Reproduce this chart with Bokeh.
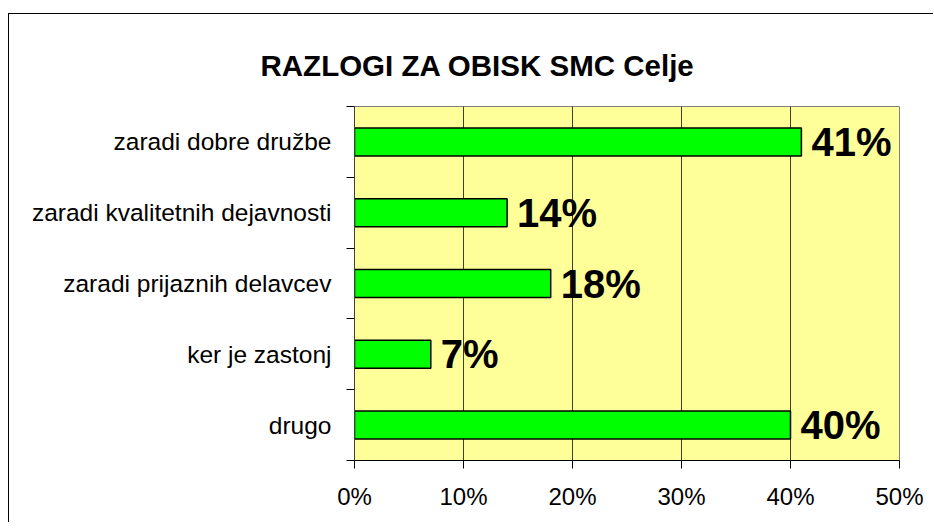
from bokeh.plotting import figure
from bokeh.models import Range1d, FixedTicker, PrintfTickFormatter, Spacer, ColumnDataSource
from bokeh.layouts import column, row
from bokeh.core.properties import value
from bokeh.embed import file_html
from bokeh.resources import INLINE

# Data (bottom to top)
title_text = "RAZLOGI ZA OBISK SMC Celje"
categories = ["drugo", "ker je zastonj", "zaradi prijaznih delavcev",
              "zaradi kvalitetnih dejavnosti", "zaradi dobre družbe"]
percent = [40, 7, 18, 14, 41]
labels = [f"{v}%" for v in percent]
x_ticks = [0, 10, 20, 30, 40, 50]

ypos = [i + 0.5 for i in range(len(categories))]
src = ColumnDataSource(dict(y=ypos, v=percent, lab=labels, cat=categories))

FONT = "Liberation Sans"

p = figure(width=925, height=509, x_range=Range1d(0, 50), y_range=Range1d(0, 5),
           output_backend="svg", toolbar_location=None,
           min_border_left=345, min_border_right=35, min_border_top=92, min_border_bottom=63)
p.styles = {"border-left": "1px solid black", "border-top": "1px solid black"}

p.background_fill_color = "#FFFF99"
p.border_fill_color = "white"
p.outline_line_color = "#808080"
p.outline_line_width = 1

p.title.text = title_text
p.title.text_font = FONT
p.title.text_font_size = "29.5px"
p.title.text_font_style = "bold"
p.title.text_color = "black"
p.title.align = "left"
p.title.vertical_align = "top"
p.title.offset = -94
p.title.standoff = 46

# grid
p.xgrid.ticker = FixedTicker(ticks=x_ticks)
p.xgrid.grid_line_color = "black"
p.xgrid.grid_line_alpha = 0.75
p.xgrid.grid_line_width = 1
p.ygrid.grid_line_color = None

# x axis
p.xaxis.ticker = FixedTicker(ticks=x_ticks)
p.xaxis.formatter = PrintfTickFormatter(format="%d%%")
p.xaxis.major_label_text_font = FONT
p.xaxis.major_label_text_font_size = "24px"
p.xaxis.major_label_text_color = "black"
p.xaxis.major_tick_in = 0
p.xaxis.major_tick_out = 8
p.xaxis.minor_tick_line_color = None
p.xaxis.axis_line_color = "black"
p.xaxis.major_tick_line_color = "black"
p.xaxis.major_label_standoff = 14

# y axis: labels at category centres, ticks at boundaries
p.yaxis.ticker = FixedTicker(ticks=ypos, minor_ticks=list(range(len(categories) + 1)))
p.yaxis.major_label_overrides = {y: c for y, c in zip(ypos, categories)}
p.yaxis.major_label_text_font = FONT
p.yaxis.major_label_text_font_size = "24.5px"
p.yaxis.major_label_text_color = "black"
p.yaxis.major_tick_line_color = None
p.yaxis.major_tick_in = 0
p.yaxis.major_tick_out = 0
p.yaxis.minor_tick_in = 0
p.yaxis.minor_tick_out = 8
p.yaxis.minor_tick_line_color = "black"
p.yaxis.axis_line_color = "#404040"
p.yaxis.major_label_standoff = 15

p.hbar(y="y", right="v", left=0, height=0.395, source=src,
       fill_color="#00FF00", line_color="black", line_width=1.5)

p.text(x="v", y="y", text="lab", source=src, x_offset=10,
       text_font=value(FONT), text_font_size="40px", text_font_style="bold",
       text_baseline="middle", text_align="left", text_color="black")

layout = column(Spacer(height=13), row(Spacer(width=8), p))
open("out.html", "w").write(file_html(layout, INLINE))
